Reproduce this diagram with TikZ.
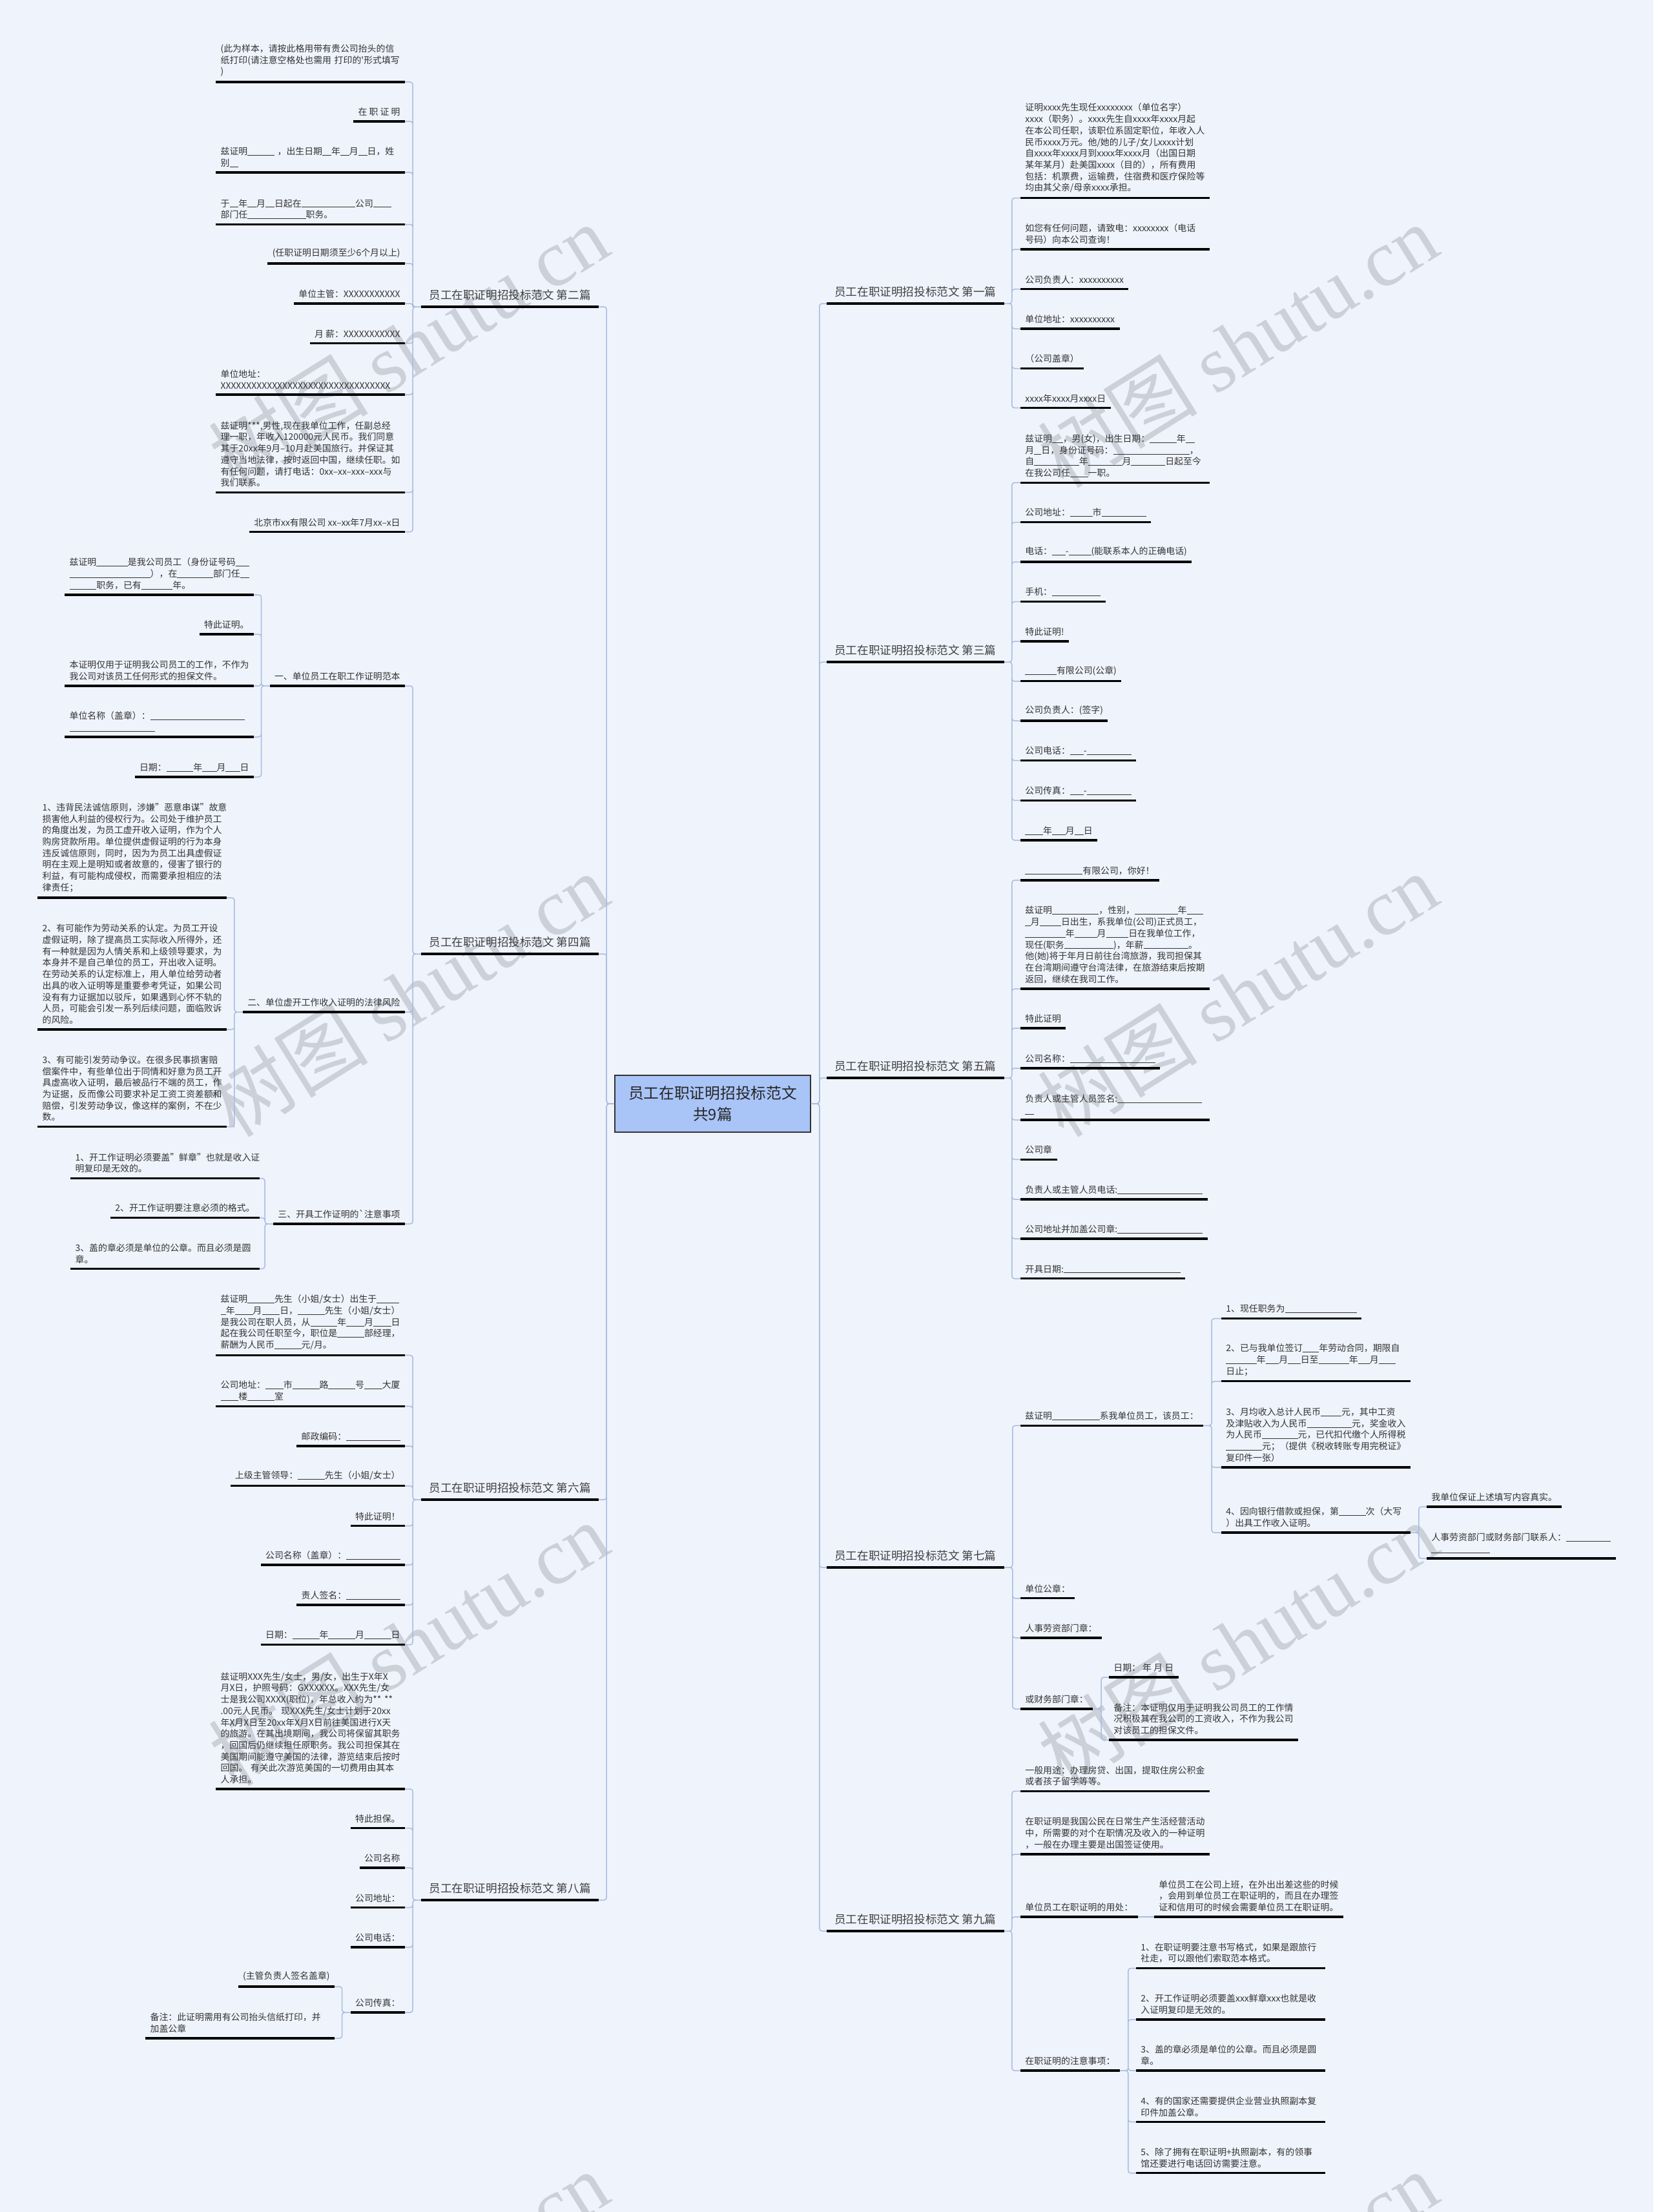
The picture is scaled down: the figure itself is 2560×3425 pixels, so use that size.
\documentclass[tikz,border=0pt]{standalone}
\usepackage{fontspec}
\setmainfont{Noto Sans CJK SC}
\newfontfamily\wmfont{Liberation Serif}
\definecolor{paper}{RGB}{239,243,251}
\definecolor{linkblue}{RGB}{166,189,226}
\definecolor{rootblue}{RGB}{169,196,247}
\definecolor{markgray}{RGB}{204,208,216}
\newcommand{\bl}[1]{\rule[-0.1em]{#1em}{0.07em}}

\begin{document}
\begin{tikzpicture}[x = 0.5pt, y = -0.5pt,
  conn/.style = {draw = linkblue, line width = 0.75pt, rounded corners = 2pt},
  ul/.style = {draw = black, line width = 1.6pt},
  leaf/.style = {font = \fontsize{6.95pt}{8.85pt}\selectfont, text = black!80, align = left,
    inner xsep = 3.5pt, inner ysep = 4pt,
    append after command = {(\tikzlastnode.south west) edge [ul] (\tikzlastnode.south east)}},
  wide/.style = {leaf, text width = 139pt, execute at begin node = {\hyphenpenalty = 10000 \exhyphenpenalty = 10000}},
  branch/.style = {leaf, font = \fontsize{8.8pt}{10pt}\selectfont, text = black!75, inner xsep = 5.5pt, inner ysep = 5pt, minimum width = 137pt},
  root/.style = {draw = black!80, line width = 0.8pt, fill = rootblue, text = black!85, align = center, inner sep = 0pt,
    minimum width = 151.5pt, minimum height = 44pt, font = \fontsize{11.85pt}{16.35pt}\selectfont},
  wmark/.style = {text = markgray, rotate = 32, font = \fontsize{62pt}{62pt}\selectfont}]
\fill [paper] (0,0) rectangle (2560,3425);
\useasboundingbox (0,0) rectangle (2560,3425);
% watermark
\node [wmark] (wm1) at (632,535) {树图 {\wmfont shutu.cn}};
\node [wmark] (wm2) at (1916,535) {树图 {\wmfont shutu.cn}};
\node [wmark] (wm3) at (632,1540) {树图 {\wmfont shutu.cn}};
\node [wmark] (wm4) at (1916,1540) {树图 {\wmfont shutu.cn}};
\node [wmark] (wm5) at (632,2545) {树图 {\wmfont shutu.cn}};
\node [wmark] (wm6) at (1916,2545) {树图 {\wmfont shutu.cn}};
\node [wmark] (wm7) at (632,3550) {树图 {\wmfont shutu.cn}};
\node [wmark] (wm8) at (1916,3550) {树图 {\wmfont shutu.cn}};

% centre and the nine branches
\node [root] (root) at (1103.5,1709) {员工在职证明招投标范文\\共9篇};
\node [branch, anchor = south east] (b2) at (927,475) {员工在职证明招投标范文 第二篇};
\node [branch, anchor = south east] (b4) at (927,1477) {员工在职证明招投标范文 第四篇};
\node [branch, anchor = south east] (b6) at (927,2322) {员工在职证明招投标范文 第六篇};
\node [branch, anchor = south east] (b8) at (927,2942) {员工在职证明招投标范文 第八篇};
\node [branch, anchor = south west] (b1) at (1280,470) {员工在职证明招投标范文 第一篇};
\node [branch, anchor = south west] (b3) at (1280,1025) {员工在职证明招投标范文 第三篇};
\node [branch, anchor = south west] (b5) at (1280,1669) {员工在职证明招投标范文 第五篇};
\node [branch, anchor = south west] (b7) at (1280,2427) {员工在职证明招投标范文 第七篇};
\node [branch, anchor = south west] (b9) at (1280,2990) {员工在职证明招投标范文 第九篇};

% second
\node [wide, anchor = south east] (l2a) at (627,127) {(此为样本，请按此格用带有贵公司抬头的信\\纸打印(请注意空格处也需用~打印的\textquotesingle 形式填写\\)};
\node [leaf, anchor = south east] (l2b) at (627,188) {在 职 证 明};
\node [wide, anchor = south east] (l2c) at (627,267) {兹证明\bl{3}~，出生日期\bl{1}年\bl{1}月\bl{1}日，姓\\别\bl{1}};
\node [wide, anchor = south east] (l2d) at (627,347.5) {于\bl{1}年\bl{1}月\bl{1}日起在\bl{6}公司\bl{2}\\部门任\bl{6.5}职务。};
\node [leaf, anchor = south east] (l2e) at (627,408) {(任职证明日期须至少6个月以上)};
\node [leaf, anchor = south east] (l2f) at (627,470) {单位主管：XXXXXXXXXXX};
\node [leaf, anchor = south east] (l2g) at (627,531.6) {月 薪：XXXXXXXXXXX};
\node [wide, anchor = south east] (l2h) at (627,611) {单位地址：\\XXXXXXXXXXXXXXXXXXXXXXXXXXXXXXXXX};
\node [wide, anchor = south east] (l2i) at (627,762.4) {兹证明***,男性,现在我单位工作，任副总经\\理一职，年收入120000元人民币。我们同意\\其于20xx年9月--10月赴美国旅行。并保证其\\遵守当地法律，按时返回中国，继续任职。如\\有任何问题，请打电话：0xx--xx--xxx--xxx与\\我们联系。};
\node [leaf, anchor = south east] (l2j) at (627,823.6) {北京市xx有限公司 xx--xx年7月xx--x日};

% fourth
\node [leaf, anchor = south east] (s41) at (627,1062) {一、单位员工在职工作证明范本};
\node [leaf, anchor = south east] (s42) at (627,1567) {二、单位虚开工作收入证明的法律风险};
\node [leaf, anchor = south east] (s43) at (627,1895) {三、开具工作证明的\textasciigrave 注意事项};
\node [wide, anchor = south east] (l41a) at (393,921) {兹证明\bl{3.5}是我公司员工（身份证号码\bl{1.5}\\\bl{9}），在\bl{4}部门任\bl{1}\\\bl{3}职务，已有\bl{3.5}年。};
\node [leaf, anchor = south east] (l41b) at (393,982) {特此证明。};
\node [wide, anchor = south east] (l41c) at (393,1062) {本证明仅用于证明我公司员工的工作，不作为\\我公司对该员工任何形式的担保文件。};
\node [wide, anchor = south east] (l41d) at (393,1141) {单位名称（盖章）：\bl{10.5}\\\bl{9.5}};
\node [leaf, anchor = south east] (l41e) at (393,1203) {日期：\bl{3}年\bl{1.6}月\bl{1.6}日};
\node [wide, anchor = south east] (l42a) at (351,1390) {1、违背民法诚信原则，涉嫌"恶意串谋"故意\\损害他人利益的侵权行为。公司处于维护员工\\的角度出发，为员工虚开收入证明，作为个人\\购房贷款所用。单位提供虚假证明的行为本身\\违反诚信原则，同时，因为为员工出具虚假证\\明在主观上是明知或者故意的，侵害了银行的\\利益，有可能构成侵权，而需要承担相应的法\\律责任；};
\node [wide, anchor = south east] (l42b) at (351,1594) {2、有可能作为劳动关系的认定。为员工开设\\虚假证明，除了提高员工实际收入所得外，还\\有一种就是因为人情关系和上级领导要求，为\\本身并不是自己单位的员工，开出收入证明。\\在劳动关系的认定标准上，用人单位给劳动者\\出具的收入证明等是重要参考凭证，如果公司\\没有有力证据加以驳斥，如果遇到心怀不轨的\\人员，可能会引发一系列后续问题，面临败诉\\的风险。};
\node [wide, anchor = south east] (l42c) at (351,1744.5) {3、有可能引发劳动争议。在很多民事损害赔\\偿案件中，有些单位出于同情和好意为员工开\\具虚高收入证明，最后被品行不端的员工，作\\为证据，反而像公司要求补足工资工资差额和\\赔偿，引发劳动争议，像这样的案例，不在少\\数。};
\node [wide, anchor = south east] (l43a) at (402,1824.5) {1、开工作证明必须要盖"鲜章"也就是收入证\\明复印是无效的。};
\node [leaf, anchor = south east] (l43b) at (402,1885.5) {2、开工作证明要注意必须的格式。};
\node [wide, anchor = south east] (l43c) at (402,1964.5) {3、盖的章必须是单位的公章。而且必须是圆\\章。};

% sixth
\node [wide, anchor = south east] (l6a) at (627,2098.4) {兹证明\bl{3}先生（小姐/女士）出生于\bl{2.5}\\\bl{0.6}年\bl{2}月\bl{2}日，\bl{3}先生（小姐/女士）\\是我公司在职人员，从\bl{3}年\bl{2}月\bl{2}日\\起在我公司任职至今，职位是\bl{3}部经理，\\薪酬为人民币\bl{3}元/月。};
\node [wide, anchor = south east] (l6b) at (627,2177.4) {公司地址：\bl{2}市\bl{3}路\bl{3}号\bl{2}大厦\\\bl{2}楼\bl{3}室};
\node [leaf, anchor = south east] (l6c) at (627,2239) {邮政编码：\bl{6}};
\node [leaf, anchor = south east] (l6d) at (627,2300.8) {上级主管领导：\bl{3}先生（小姐/女士）};
\node [leaf, anchor = south east] (l6e) at (627,2362.6) {特此证明！};
\node [leaf, anchor = south east] (l6f) at (627,2423) {公司名称（盖章）：\bl{6}};
\node [leaf, anchor = south east] (l6g) at (627,2485) {责人签名：\bl{6}};
\node [leaf, anchor = south east] (l6h) at (627,2546.7) {日期：\bl{3}年\bl{3}月\bl{3}日};

% eighth
\node [wide, anchor = south east] (l8a) at (627,2770) {兹证明XXX先生/女士，男/女，出生于X年X\\月X日，护照号码：GXXXXXX。XXX先生/女\\士是我公司XXXX(职位)，年总收入约为**~**\\*.00元人民币。~现XXX先生/女士计划于20xx\\年X月X日至20xx年X月X日前往美国进行X天\\的旅游。在其出境期间，我公司将保留其职务\\，回国后仍继续担任原职务。我公司担保其在\\美国期间能遵守美国的法律，游览结束后按时\\回国。~有关此次游览美国的一切费用由其本\\人承担。};
\node [leaf, anchor = south east] (l8b) at (627,2830.7) {特此担保。};
\node [leaf, anchor = south east] (l8c) at (627,2892) {公司名称};
\node [leaf, anchor = south east] (l8d) at (627,2953.7) {公司地址：};
\node [leaf, anchor = south east] (l8e) at (627,3015) {公司电话：};
\node [leaf, anchor = south east] (l8f) at (627,3116) {公司传真：};
\node [leaf, anchor = south east] (l8g) at (518,3076) {(主管负责人签名盖章)};
\node [wide, anchor = south east] (l8h) at (518,3156) {备注：此证明需用有公司抬头信纸打印，并\\加盖公章};

% first
\node [wide, anchor = south west] (r1a) at (1580,306.7) {证明xxxx先生现任xxxxxxxx（单位名字）\\xxxx（职务）。xxxx先生自xxxx年xxxx月起\\在本公司任职，该职位系固定职位，年收入人\\民币xxxx万元。他/她的儿子/女儿xxxx计划\\自xxxx年xxxx月到xxxx年xxxx月（出国日期\\某年某月）赴美国xxxx（目的），所有费用\\包括：机票费，运输费，住宿费和医疗保险等\\均由其父亲/母亲xxxx承担。};
\node [wide, anchor = south west] (r1b) at (1580,386) {如您有任何问题，请致电：xxxxxxxx（电话\\号码）向本公司查询！};
\node [leaf, anchor = south west] (r1c) at (1580,447.7) {公司负责人：xxxxxxxxxx};
\node [leaf, anchor = south west] (r1d) at (1580,509) {单位地址：xxxxxxxxxx};
\node [leaf, anchor = south west] (r1e) at (1580,570.6) {（公司盖章）};
\node [leaf, anchor = south west] (r1f) at (1580,631.6) {xxxx年xxxx月xxxx日};

% third
\node [wide, anchor = south west] (r3a) at (1580,747.3) {兹证明\bl{1.2}，男(女)，出生日期：\bl{3}年\bl{1}\\月\bl{0.8}日，身份证号码：\bl{8.5}，\\自\bl{5}年\bl{3.8}月\bl{3.8}日起至今\\在我公司任\bl{2}一职。};
\node [leaf, anchor = south west] (r3b) at (1580,808.6) {公司地址：\bl{2.5}市\bl{5}};
\node [leaf, anchor = south west] (r3c) at (1580,870) {电话：\bl{1.5}-\bl{2.5}(能联系本人的正确电话)};
\node [leaf, anchor = south west] (r3d) at (1580,931.5) {手机：\bl{5.4}};
\node [leaf, anchor = south west] (r3e) at (1580,993) {特此证明!};
\node [leaf, anchor = south west] (r3f) at (1580,1054.8) {\bl{3.5}有限公司(公章)};
\node [leaf, anchor = south west] (r3g) at (1580,1116) {公司负责人：(签字)};
\node [leaf, anchor = south west] (r3h) at (1580,1177.7) {公司电话：\bl{1.5}-\bl{5}};
\node [leaf, anchor = south west] (r3i) at (1580,1239.4) {公司传真：\bl{1.5}-\bl{5}};
\node [leaf, anchor = south west] (r3j) at (1580,1301) {\bl{2}年\bl{1.5}月\bl{1}日};

% fifth
\node [leaf, anchor = south west] (r5a) at (1580,1362.9) {\bl{6.4}有限公司，你好！};
\node [wide, anchor = south west] (r5b) at (1580,1531) {兹证明\bl{5.2}，性别，\bl{4.8}年\bl{1.8}\\\bl{0.6}月\bl{2.4}日出生，系我单位(公司)正式员工，\\\bl{4.5}年\bl{2.5}月\bl{2.5}日在我单位工作，\\现任(职务\bl{5.5})，年薪\bl{5}。\\他(她)将于年月日前往台湾旅游，我司担保其\\在台湾期间遵守台湾法律，在旅游结束后按期\\返回，继续在我司工作。};
\node [leaf, anchor = south west] (r5c) at (1580,1592) {特此证明};
\node [leaf, anchor = south west] (r5d) at (1580,1654) {公司名称：\bl{9.5}};
\node [wide, anchor = south west] (r5e) at (1580,1734) {负责人或主管人员签名:\bl{9.4}\\\bl{1}};
\node [leaf, anchor = south west] (r5f) at (1580,1795.4) {公司章};
\node [leaf, anchor = south west] (r5g) at (1580,1857) {负责人或主管人员电话:\bl{9.5}};
\node [leaf, anchor = south west] (r5h) at (1580,1918) {公司地址并加盖公司章:\bl{9.5}};
\node [leaf, anchor = south west] (r5i) at (1580,1979.8) {开具日期:\bl{13}};

% seventh
\node [leaf, anchor = south west] (r7a) at (1580,2207.3) {兹证明\bl{5.3}系我单位员工，该员工：};
\node [leaf, anchor = south west] (r7b) at (1580,2474.8) {单位公章：};
\node [leaf, anchor = south west] (r7c) at (1580,2536) {人事劳资部门章：};
\node [leaf, anchor = south west] (r7d) at (1580,2646) {或财务部门章：};
\node [leaf, anchor = south west] (r7e) at (1891,2041.6) {1、现任职务为\bl{8}};
\node [wide, anchor = south west] (r7f) at (1891,2138.8) {2、已与我单位签订\bl{1.8}年劳动合同，期限自\\\bl{3.4}年\bl{1.5}月\bl{1.4}日至\bl{3.4}年\bl{1.3}月\bl{1.9}\\日止；};
\node [wide, anchor = south west] (r7g) at (1891,2272) {3、月均收入总计人民币\bl{2.3}元，其中工资\\及津贴收入为人民币\bl{5}元，奖金收入\\为人民币\bl{4}元，已代扣代缴个人所得税\\\bl{4}元；（提供《税收转账专用完税证》\\复印件一张）};
\node [wide, anchor = south west] (r7h) at (1891,2373) {4、因向银行借款或担保，第\bl{3}次（大写\\）出具工作收入证明。};
\node [leaf, anchor = south west] (r7i) at (2209,2333) {我单位保证上述填写内容真实。};
\node [wide, anchor = south west] (r7j) at (2209,2413) {人事劳资部门或财务部门联系人：\bl{5}\\\bl{6.5}};
\node [leaf, anchor = south west] (r7k) at (1717,2597) {日期：~年~月~日};
\node [wide, anchor = south west] (r7l) at (1717,2694) {备注：本证明仅用于证明我公司员工的工作情\\况积极其在我公司的工资收入，不作为我公司\\对该员工的担保文件。};

% ninth
\node [wide, anchor = south west] (r9a) at (1580,2773.4) {一般用途：办理房贷、出国，提取住房公积金\\或者孩子留学等等。};
\node [wide, anchor = south west] (r9b) at (1580,2871) {在职证明是我国公民在日常生产生活经营活动\\中，所需要的对个在职情况及收入的一种证明\\，一般在办理主要是出国签证使用。};
\node [leaf, anchor = south west] (r9c) at (1580,2968) {单位员工在职证明的用处：};
\node [leaf, anchor = south west] (r9d) at (1580,3206) {在职证明的注意事项：};
\node [wide, anchor = south west] (r9e) at (1787,2968) {单位员工在公司上班，在外出出差这些的时候\\，会用到单位员工在职证明的，而且在办理签\\证和信用可的时候会需要单位员工在职证明。};
\node [wide, anchor = south west] (r9f) at (1759,3047.6) {1、在职证明要注意书写格式，如果是跟旅行\\社走，可以跟他们索取范本格式。};
\node [wide, anchor = south west] (r9g) at (1759,3127) {2、开工作证明必须要盖xxx鲜章xxx也就是收\\入证明复印是无效的。};
\node [wide, anchor = south west] (r9h) at (1759,3206) {3、盖的章必须是单位的公章。而且必须是圆\\章。};
\node [wide, anchor = south west] (r9i) at (1759,3285.5) {4、有的国家还需要提供企业营业执照副本复\\印件加盖公章。};
\node [wide, anchor = south west] (r9j) at (1759,3364.8) {5、除了拥有在职证明+执照副本，有的领事\\馆还要进行电话回访需要注意。};

% connectors
\draw [conn] (root.west) -- ++(-12,0) |- (b2.south east);
\draw [conn] (root.west) -- ++(-12,0) |- (b4.south east);
\draw [conn] (root.west) -- ++(-12,0) |- (b6.south east);
\draw [conn] (root.west) -- ++(-12,0) |- (b8.south east);
\draw [conn] (root.east) -- ++(13,0) |- (b1.south west);
\draw [conn] (root.east) -- ++(13,0) |- (b3.south west);
\draw [conn] (root.east) -- ++(13,0) |- (b5.south west);
\draw [conn] (root.east) -- ++(13,0) |- (b7.south west);
\draw [conn] (root.east) -- ++(13,0) |- (b9.south west);
\draw [conn] (b2.south west) -- ++(-13,0) |- (l2a.south east)
  (b2.south west) -- ++(-13,0) |- (l2b.south east)
  (b2.south west) -- ++(-13,0) |- (l2c.south east)
  (b2.south west) -- ++(-13,0) |- (l2d.south east)
  (b2.south west) -- ++(-13,0) |- (l2e.south east)
  (b2.south west) -- ++(-13,0) |- (l2f.south east)
  (b2.south west) -- ++(-13,0) |- (l2g.south east)
  (b2.south west) -- ++(-13,0) |- (l2h.south east)
  (b2.south west) -- ++(-13,0) |- (l2i.south east)
  (b2.south west) -- ++(-13,0) |- (l2j.south east);
\draw [conn] (b4.south west) -- ++(-13,0) |- (s41.south east)
  (b4.south west) -- ++(-13,0) |- (s42.south east)
  (b4.south west) -- ++(-13,0) |- (s43.south east);
\draw [conn] (s41.south west) -- ++(-13,0) |- (l41a.south east)
  (s41.south west) -- ++(-13,0) |- (l41b.south east)
  (s41.south west) -- ++(-13,0) |- (l41c.south east)
  (s41.south west) -- ++(-13,0) |- (l41d.south east)
  (s41.south west) -- ++(-13,0) |- (l41e.south east);
\draw [conn] (s42.south west) -- ++(-13,0) |- (l42a.south east)
  (s42.south west) -- ++(-13,0) |- (l42b.south east)
  (s42.south west) -- ++(-13,0) |- (l42c.south east);
\draw [conn] (s43.south west) -- ++(-13,0) |- (l43a.south east)
  (s43.south west) -- ++(-13,0) |- (l43b.south east)
  (s43.south west) -- ++(-13,0) |- (l43c.south east);
\draw [conn] (b6.south west) -- ++(-13,0) |- (l6a.south east)
  (b6.south west) -- ++(-13,0) |- (l6b.south east)
  (b6.south west) -- ++(-13,0) |- (l6c.south east)
  (b6.south west) -- ++(-13,0) |- (l6d.south east)
  (b6.south west) -- ++(-13,0) |- (l6e.south east)
  (b6.south west) -- ++(-13,0) |- (l6f.south east)
  (b6.south west) -- ++(-13,0) |- (l6g.south east)
  (b6.south west) -- ++(-13,0) |- (l6h.south east);
\draw [conn] (b8.south west) -- ++(-13,0) |- (l8a.south east)
  (b8.south west) -- ++(-13,0) |- (l8b.south east)
  (b8.south west) -- ++(-13,0) |- (l8c.south east)
  (b8.south west) -- ++(-13,0) |- (l8d.south east)
  (b8.south west) -- ++(-13,0) |- (l8e.south east)
  (b8.south west) -- ++(-13,0) |- (l8f.south east);
\draw [conn] (l8f.south west) -- ++(-13,0) |- (l8g.south east)
  (l8f.south west) -- ++(-13,0) |- (l8h.south east);
\draw [conn] (b1.south east) -- ++(12,0) |- (r1a.south west)
  (b1.south east) -- ++(12,0) |- (r1b.south west)
  (b1.south east) -- ++(12,0) |- (r1c.south west)
  (b1.south east) -- ++(12,0) |- (r1d.south west)
  (b1.south east) -- ++(12,0) |- (r1e.south west)
  (b1.south east) -- ++(12,0) |- (r1f.south west);
\draw [conn] (b3.south east) -- ++(12,0) |- (r3a.south west)
  (b3.south east) -- ++(12,0) |- (r3b.south west)
  (b3.south east) -- ++(12,0) |- (r3c.south west)
  (b3.south east) -- ++(12,0) |- (r3d.south west)
  (b3.south east) -- ++(12,0) |- (r3e.south west)
  (b3.south east) -- ++(12,0) |- (r3f.south west)
  (b3.south east) -- ++(12,0) |- (r3g.south west)
  (b3.south east) -- ++(12,0) |- (r3h.south west)
  (b3.south east) -- ++(12,0) |- (r3i.south west)
  (b3.south east) -- ++(12,0) |- (r3j.south west);
\draw [conn] (b5.south east) -- ++(12,0) |- (r5a.south west)
  (b5.south east) -- ++(12,0) |- (r5b.south west)
  (b5.south east) -- ++(12,0) |- (r5c.south west)
  (b5.south east) -- ++(12,0) |- (r5d.south west)
  (b5.south east) -- ++(12,0) |- (r5e.south west)
  (b5.south east) -- ++(12,0) |- (r5f.south west)
  (b5.south east) -- ++(12,0) |- (r5g.south west)
  (b5.south east) -- ++(12,0) |- (r5h.south west)
  (b5.south east) -- ++(12,0) |- (r5i.south west);
\draw [conn] (b7.south east) -- ++(13,0) |- (r7a.south west)
  (b7.south east) -- ++(13,0) |- (r7b.south west)
  (b7.south east) -- ++(13,0) |- (r7c.south west)
  (b7.south east) -- ++(13,0) |- (r7d.south west);
\draw [conn] (r7a.south east) -- ++(13,0) |- (r7e.south west)
  (r7a.south east) -- ++(13,0) |- (r7f.south west)
  (r7a.south east) -- ++(13,0) |- (r7g.south west)
  (r7a.south east) -- ++(13,0) |- (r7h.south west);
\draw [conn] (r7h.south east) -- ++(13,0) |- (r7i.south west)
  (r7h.south east) -- ++(13,0) |- (r7j.south west);
\draw [conn] (r7d.south east) -- ++(13,0) |- (r7k.south west)
  (r7d.south east) -- ++(13,0) |- (r7l.south west);
\draw [conn] (b9.south east) -- ++(12,0) |- (r9a.south west)
  (b9.south east) -- ++(12,0) |- (r9b.south west)
  (b9.south east) -- ++(12,0) |- (r9c.south west)
  (b9.south east) -- ++(12,0) |- (r9d.south west);
\draw [conn] (r9c.south east) -- (r9e.south west);
\draw [conn] (r9d.south east) -- ++(13,0) |- (r9f.south west)
  (r9d.south east) -- ++(13,0) |- (r9g.south west)
  (r9d.south east) -- ++(13,0) |- (r9h.south west)
  (r9d.south east) -- ++(13,0) |- (r9i.south west)
  (r9d.south east) -- ++(13,0) |- (r9j.south west);
\end{tikzpicture}
\end{document}
